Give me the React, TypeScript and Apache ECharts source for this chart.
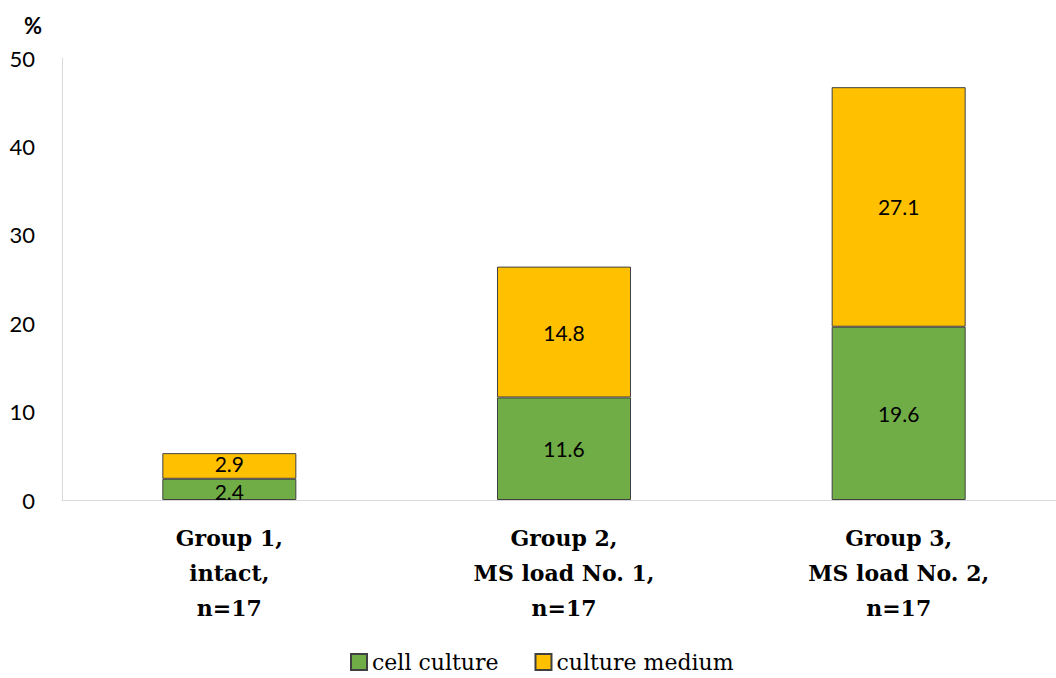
import React, { useEffect, useRef } from "react";
import * as echarts from "echarts";

const categories = [
  "Group 1,\nintact,\nn=17",
  "Group 2,\nMS load No. 1,\nn=17",
  "Group 3,\nMS load No. 2,\nn=17",
];
const cellCulture = [2.4, 11.6, 19.6];
const cultureMedium = [2.9, 14.8, 27.1];
const yTicks = { min: 0, max: 50, interval: 10 };

const SANS = "Lato, 'Open Sans', sans-serif";
const SERIF = "'DejaVu Serif', 'Liberation Serif', serif";

// Thin segments get their labels nudged apart so the two values stay readable.
const withNudge = (values: number[], dy: number) =>
  values.map((v) => (v < 4 ? { value: v, label: { offset: [0, dy] } } : v));

export default function App() {
  const ref = useRef<HTMLDivElement>(null);

  useEffect(() => {
    document.body.style.margin = "0";
    if (!ref.current) return;
    const chart = echarts.init(ref.current, null, { renderer: "svg" });
    const labelStyle = {
      show: true,
      position: "inside" as const,
      color: "#000",
      fontFamily: SANS,
      fontSize: 21,
      lineHeight: 20,
      formatter: (p: any) => Number(p.value).toFixed(1),
    };
    chart.setOption({
      animation: false,
      backgroundColor: "#fff",
      grid: { left: 62, top: 58, bottom: 178, right: 0 },
      legend: {
        left: 350,
        top: 651,
        padding: 0,
        itemWidth: 16,
        itemHeight: 16,
        itemGap: 36,
        icon: "rect",
        textStyle: { fontFamily: SERIF, fontSize: 22, color: "#000" },
        data: ["cell culture", "culture medium"],
      },
      graphic: [
        {
          type: "text",
          left: 24,
          top: 14,
          style: { text: "%", fontFamily: SANS, fontWeight: "bold", fontSize: 22, fill: "#000" },
        },
      ],
      xAxis: {
        type: "category",
        data: categories,
        axisLine: { show: true, lineStyle: { color: "#d9d9d9", width: 1 } },
        axisTick: { show: false },
        axisLabel: {
          margin: 20,
          fontFamily: SERIF,
          fontWeight: "bold",
          fontSize: 22,
          lineHeight: 35,
          color: "#000",
        },
      },
      yAxis: {
        type: "value",
        min: yTicks.min,
        max: yTicks.max,
        interval: yTicks.interval,
        axisLine: { show: true, lineStyle: { color: "#d9d9d9", width: 1 } },
        axisTick: { show: false },
        splitLine: { show: false },
        axisLabel: { margin: 27, fontFamily: SANS, fontSize: 22, color: "#000" },
      },
      series: [
        {
          name: "cell culture",
          type: "bar",
          stack: "total",
          barWidth: 134,
          data: withNudge(cellCulture, 2),
          itemStyle: { color: "#70ad47", borderColor: "#404040", borderWidth: 1 },
          label: labelStyle,
        },
        {
          name: "culture medium",
          type: "bar",
          stack: "total",
          barWidth: 134,
          data: withNudge(cultureMedium, -2),
          itemStyle: { color: "#ffc000", borderColor: "#404040", borderWidth: 1 },
          label: labelStyle,
        },
      ],
    });
    return () => chart.dispose();
  }, []);

  return (
    <div style={{ width: 1056, height: 678, overflow: "hidden" }}>
      <div ref={ref} style={{ width: 1066, height: 678 }} />
    </div>
  );
}
